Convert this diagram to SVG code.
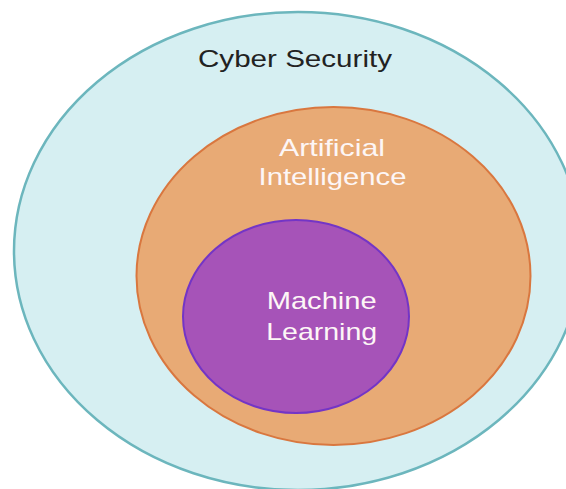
<svg xmlns="http://www.w3.org/2000/svg" width="566" height="489" viewBox="0 0 566 489">
<style>
  .lbl { font-family: "Liberation Sans", Arial, sans-serif; font-size: 24px; text-anchor: middle; }
  .dark { fill: #222222; }
  .light { fill: #fdf6f6; }
</style>
<rect width="566" height="489" fill="#ffffff"/>
<g id="cyber-security">
  <ellipse cx="298" cy="251" rx="284" ry="239" fill="#d6eff2" stroke="#6cb6bd" stroke-width="2.5"/>
  <text class="lbl dark" x="295" y="67" textLength="194" lengthAdjust="spacingAndGlyphs">Cyber Security</text>
</g>
<g id="artificial-intelligence">
  <ellipse cx="333.5" cy="276" rx="197" ry="169" fill="#e8aa75" stroke="#d9773f" stroke-width="2"/>
  <text class="lbl light" x="332" y="156" textLength="106" lengthAdjust="spacingAndGlyphs">Artificial</text>
  <text class="lbl light" x="332.5" y="185" textLength="148" lengthAdjust="spacingAndGlyphs">Intelligence</text>
</g>
<g id="machine-learning">
  <ellipse cx="296" cy="316.5" rx="113" ry="96.5" fill="#a653b8" stroke="#7335c6" stroke-width="2"/>
  <text class="lbl light" x="321.7" y="309" textLength="110" lengthAdjust="spacingAndGlyphs">Machine</text>
  <text class="lbl light" x="321.7" y="340" textLength="111" lengthAdjust="spacingAndGlyphs">Learning</text>
</g>
<g id="connectors"/>
</svg>
